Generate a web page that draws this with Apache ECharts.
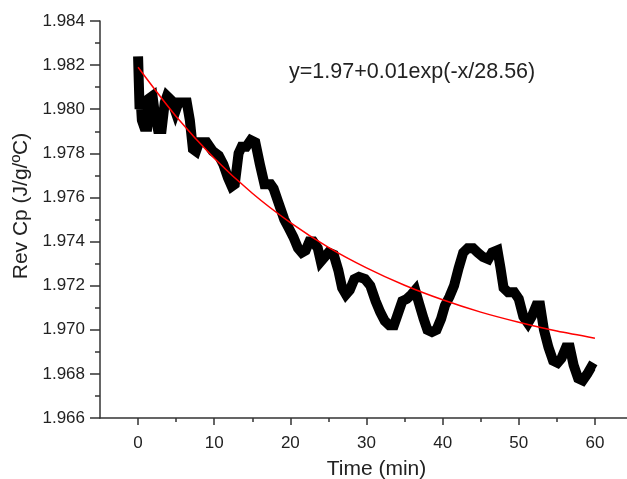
<!DOCTYPE html>
<html>
<head>
<meta charset="utf-8">
<script src="https://cdn.jsdelivr.net/npm/echarts@6/dist/echarts.min.js"></script>
<style>
html,body{margin:0;padding:0;background:#fff;}
#chart{width:627px;height:479px;}
</style>
</head>
<body>
<div id="chart"></div>
<script>
// ---- data ----
const timeMin = [0.0,0.1,0.2,0.3,0.5,0.8,1.2,1.5,1.9,2.2,2.6,3.1,3.5,3.8,4.4,4.9,5.3,6.4,6.8,7.2,7.6,8.0,9.0,9.8,10.6,11.2,11.8,12.3,12.7,13.2,13.6,14.2,14.8,15.4,16.0,16.6,17.4,17.8,18.4,19.2,19.8,20.4,21.0,21.5,22.0,22.5,23.0,23.6,24.0,24.5,25.0,25.7,26.3,26.8,27.3,27.8,28.4,29.0,29.8,30.5,31.2,31.8,32.4,33.0,33.6,34.2,34.7,35.3,35.9,36.4,36.9,37.5,38.0,38.6,39.2,39.8,40.3,40.9,41.5,42.1,42.7,43.3,44.0,44.6,45.3,46.0,46.5,47.2,47.6,48.0,48.6,49.4,50.0,50.6,51.2,51.7,52.3,52.8,53.3,53.9,54.5,55.1,55.6,56.2,56.7,57.2,57.8,58.4,59.0,59.5,60.0];
const revCp = [1.9824,1.9812,1.9800,1.9806,1.9795,1.9792,1.9792,1.9805,1.9806,1.9798,1.9791,1.9791,1.9803,1.9806,1.9804,1.9799,1.9803,1.9803,1.9795,1.9782,1.9781,1.9785,1.9785,1.9781,1.9779,1.9775,1.9769,1.9765,1.9766,1.9780,1.9783,1.9783,1.9786,1.9785,1.9775,1.9766,1.9766,1.9764,1.9758,1.9750,1.9746,1.9742,1.9737,1.9735,1.9736,1.9740,1.9740,1.9737,1.9731,1.9733,1.9735,1.9734,1.9727,1.9719,1.9716,1.9718,1.9723,1.9724,1.9723,1.9720,1.9713,1.9708,1.9704,1.9702,1.9702,1.9708,1.9713,1.9714,1.9716,1.9718,1.9712,1.9705,1.9700,1.9699,1.9700,1.9705,1.9711,1.9715,1.9720,1.9728,1.9735,1.9737,1.9737,1.9735,1.9733,1.9732,1.9735,1.9736,1.9728,1.9719,1.9717,1.9717,1.9714,1.9706,1.9703,1.9706,1.9711,1.9711,1.9700,1.9692,1.9686,1.9685,1.9687,1.9692,1.9692,1.9684,1.9678,1.9677,1.9680,1.9683,1.9682];
const fitTime = [0,5,10,15,20,25,30,35,40,45,50,55,60];
const fitCp = [1.98190,1.97967,1.97778,1.97619,1.97486,1.97374,1.97281,1.97202,1.97136,1.97080,1.97034,1.96994,1.96962];
const xMajorTicks = [0,10,20,30,40,50,60];
const xMinorTicks = [5,15,25,35,45,55];
const xTitle = 'Time (min)';
const yTitle = 'Rev Cp (J/g/ºC)';
const equationText = 'y=1.97+0.01exp(-x/28.56)';

const FONT = '"Liberation Sans", Arial, sans-serif';
const chart = echarts.init(document.getElementById('chart'), null, {renderer:'canvas'});
const axisColor = '#333';
const textColor = '#222';

const option = {
  animation: false,
  backgroundColor: '#fff',
  grid: {left: 100, right: -6, top: 21, bottom: 61, containLabel: false, outerBoundsMode: 'none'},
  xAxis: [{
    type: 'value', min: -5, max: 65,
    name: xTitle, nameLocation: 'middle', nameGap: 41,
    nameTextStyle: {fontFamily: FONT, fontSize: 21, color: textColor, padding: [0,0,0,20]},
    axisLine: {show: true, onZero: false, lineStyle: {color: axisColor, width: 1.5}},
    axisTick: {show: true, customValues: xMajorTicks, length: 7, lineStyle: {color: axisColor, width: 1.5}},
    axisLabel: {customValues: xMajorTicks, margin: 17, fontFamily: FONT, fontSize: 17, color: textColor},
    splitLine: {show: false}
  }, {
    type: 'value', min: -5, max: 65, position: 'bottom',
    axisLine: {show: false, onZero: false},
    axisTick: {show: true, customValues: xMinorTicks, length: 4, lineStyle: {color: axisColor, width: 1.5}},
    axisLabel: {show: false},
    splitLine: {show: false}
  }],
  yAxis: {
    type: 'value', min: 1.966, max: 1.984, interval: 0.002,
    name: yTitle, nameLocation: 'middle', nameGap: 62,
    nameTextStyle: {fontFamily: FONT, fontSize: 21, color: textColor, padding: [0,0,0,27]},
    axisLine: {show: true, onZero: false, lineStyle: {color: axisColor, width: 1.5}},
    axisTick: {show: true, length: 10, lineStyle: {color: axisColor, width: 1.5}},
    minorTick: {show: true, splitNumber: 2, length: 5, lineStyle: {color: axisColor, width: 1.5}},
    axisLabel: {margin: 15, fontFamily: FONT, fontSize: 17, color: textColor,
      formatter: v => v.toFixed(3)},
    splitLine: {show: false},
    minorSplitLine: {show: false}
  },
  graphic: [{
    type: 'text', left: 289, top: 61,
    style: {text: equationText, font: '21.5px ' + FONT, fill: textColor}
  }],
  series: [{
    type: 'line', xAxisIndex: 0, symbol: 'none',
    data: timeMin.map((t, i) => [t, revCp[i]]),
    lineStyle: {color: '#000', width: 10, join: 'miter'},
    z: 2
  }, {
    type: 'line', xAxisIndex: 0, symbol: 'none', smooth: 0.3,
    data: fitTime.map((t, i) => [t, fitCp[i]]),
    lineStyle: {color: '#ff0000', width: 1.5},
    z: 3
  }]
};
chart.setOption(option);
</script>
</body>
</html>
